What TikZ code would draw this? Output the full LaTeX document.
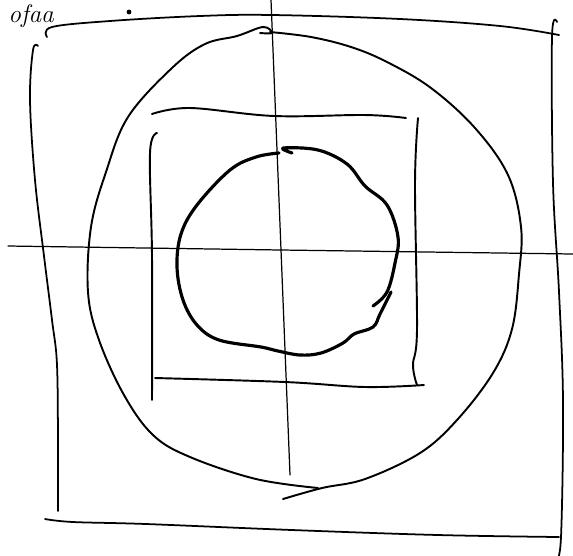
\documentclass[tikz,border=0pt]{standalone}
\begin{document}
\begin{tikzpicture}[x=0.02cm,y=-0.02cm,line cap=round,line join=round]
            \useasboundingbox (0,0) rectangle (573,555);
            \clip (0,0) rectangle (573,555);
            % scribbled word at the top
            \node[anchor=base west,font=\itshape\Large,inner sep=0pt] (word) at (8,22) {ofaa};
            \fill (129,12) circle (2.4);
            % outer square
            \draw[line width=1pt] plot[smooth,tension=0.6] coordinates {(47,37) (52,27) (110,21) (200,16) (272,15) (400,19) (500,26) (559,35)};
            \draw[line width=1pt] plot[smooth,tension=0.6] coordinates {(38,46) (33,50) (30,100) (35,180) (44,256) (52,320) (57,365) (58,450) (58,511)};
            \draw[line width=1pt] plot[smooth,tension=0.6] coordinates {(45,519) (73,522) (146,524) (292,530) (438,535) (559,537)};
            \draw[line width=1pt] plot[smooth,tension=0.6] coordinates {(557,22) (552,37) (553,183) (559,292) (563,402) (561,537) (556,560)};
            % axes
            \draw[line width=0.7pt] (8,246) -- (281,250) -- (573,254);
            \draw[line width=0.7pt] (271,0) -- (281,250) -- (290,475);
            % big circle
            \draw[line width=1.1pt] plot[smooth,tension=0.6] coordinates {(318,488) (256,479) (190,457) (153,435) (124,395) (99,340) (88,292) (91,227) (106,172) (128,117) (172,68) (205,44) (237,36) (263,27) (272,33) (260,33)};
            \draw[line width=1.1pt] plot[smooth,tension=0.6] coordinates {(270,32) (311,37) (351,47) (387,62) (431,88) (475,128) (508,175) (521,227) (519,274) (512,329) (493,373) (457,420) (420,453) (365,479) (322,488) (283,499)};
            % inner square
            \draw[line width=1.1pt] plot[smooth,tension=0.6] coordinates {(152,114) (190,108) (274,116) (365,115) (406,118)};
            \draw[line width=1.1pt] plot[smooth,tension=0.6] coordinates {(157,133) (150,153) (152,256) (152,400)};
            \draw[line width=1.1pt] plot[smooth,tension=0.6] coordinates {(418,118) (415,183) (417,329) (413,365) (417,385)};
            \draw[line width=1.1pt] plot[smooth,tension=0.6] coordinates {(155,378) (285,382) (365,387) (424,385)};
            % inner circle
            \draw[line width=1.8pt] plot[smooth,tension=0.6] coordinates {(292,153) (283,148) (318,150) (347,164) (365,186) (387,205) (398,237) (395,263) (387,292) (373,306)};
            \draw[line width=1.8pt] plot[smooth,tension=0.6] coordinates {(391,292) (380,314) (373,327) (354,334) (343,343) (321,353) (300,355) (278,351) (261,347) (219,340) (197,325) (183,300) (177,267) (181,234) (197,205) (230,170) (256,157) (279,153)};
        \end{tikzpicture}
\end{document}
